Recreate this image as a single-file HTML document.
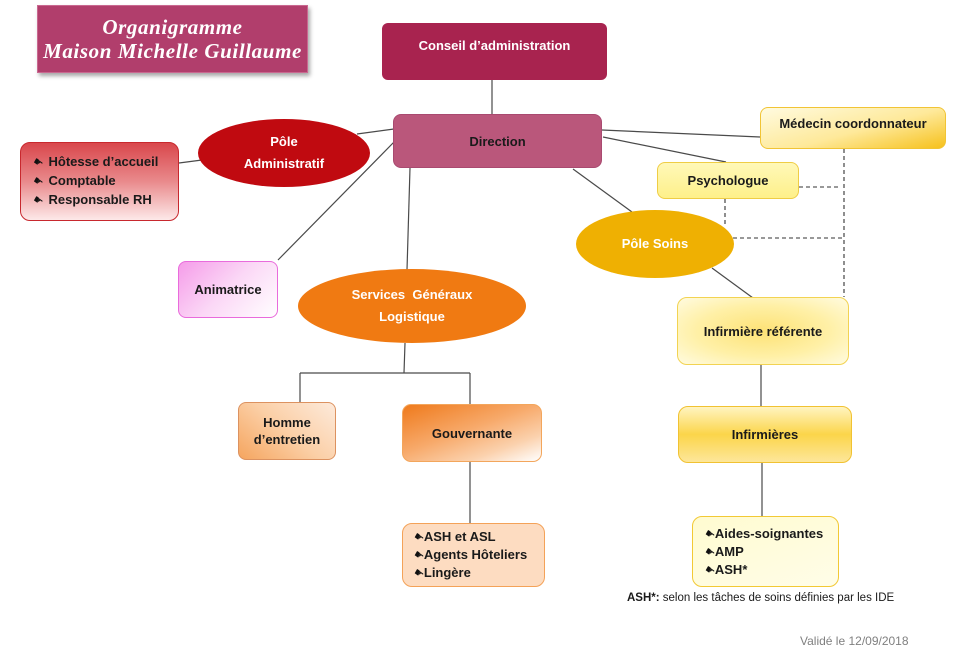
<!DOCTYPE html>
<html><head><meta charset="utf-8"><style>
body{margin:0;background:#fff;}
#c{position:relative;width:965px;height:652px;overflow:hidden;background:#fff;font-family:"Liberation Sans",sans-serif;}
.b{position:absolute;box-sizing:border-box;display:flex;align-items:center;justify-content:center;text-align:center;font-weight:bold;font-size:13px;color:#1a1a1a;line-height:17px;}
.e{position:absolute;border-radius:50%;display:flex;align-items:center;justify-content:center;text-align:center;font-weight:bold;font-size:13px;color:#fff;line-height:22px;}
.l{justify-content:flex-start;text-align:left;}
.bu{font-family:"DejaVu Sans",sans-serif;font-size:11px;font-weight:normal;margin-right:2px;display:inline-block;transform:rotate(35deg);color:#111;}
svg{position:absolute;left:0;top:0;}
</style></head><body><div id="c">
<svg width="965" height="652">
<g stroke="#4a4a4a" stroke-width="1.2" fill="none">
<line x1="492" y1="80" x2="492" y2="114"/>
<line x1="179" y1="163" x2="202" y2="160"/>
<line x1="357" y1="134" x2="394" y2="129"/>
<line x1="278" y1="260" x2="395" y2="141"/>
<line x1="410" y1="168" x2="407" y2="270"/>
<line x1="405" y1="343" x2="404" y2="373"/>
<line x1="300" y1="373" x2="470" y2="373"/>
<line x1="300" y1="373" x2="300" y2="403"/>
<line x1="470" y1="373" x2="470" y2="404"/>
<line x1="470" y1="462" x2="470" y2="523"/>
<line x1="602" y1="130" x2="760" y2="137"/>
<line x1="603" y1="137" x2="726" y2="162"/>
<line x1="573" y1="169" x2="632" y2="212"/>
<line x1="712" y1="268" x2="753" y2="298"/>
<line x1="761" y1="365" x2="761" y2="407"/>
<line x1="762" y1="463" x2="762" y2="516"/>
</g>
<g stroke="#333" stroke-width="1.1" fill="none" stroke-dasharray="4,3">
<line x1="844" y1="149" x2="844" y2="297"/>
<line x1="799" y1="187" x2="838" y2="187"/>
<line x1="725" y1="199" x2="725" y2="226"/>
<line x1="733" y1="238" x2="844" y2="238"/>
</g>
</svg>

<div class="b" style="left:37px;top:5px;width:271px;height:68px;background:#b13e6c;box-shadow:2px 3px 4px rgba(0,0,0,0.35);border:1px solid #c96890;color:#fff;font-family:'Liberation Serif',serif;font-style:italic;font-size:21px;line-height:24px;letter-spacing:0.6px;flex-direction:column;">
<div>Organigramme</div><div>Maison Michelle Guillaume</div></div>

<div class="b" style="left:382px;top:23px;width:225px;height:57px;background:#a8234f;border-radius:6px;color:#fff;align-items:flex-start;padding-top:14px;">Conseil d’administration</div>

<div class="b" style="left:393px;top:114px;width:209px;height:54px;background:#ba577b;border-radius:8px;border:1px solid #a94a70;">Direction</div>

<div class="e" style="left:198px;top:119px;width:172px;height:68px;background:#c00a10;flex-direction:column;"><div>Pôle</div><div>Administratif</div></div>

<div class="b l" style="left:20px;top:142px;width:159px;height:79px;border-radius:10px;border:1px solid #c8282e;background:linear-gradient(to bottom,#d9474c 0%,#e98a8c 50%,#fde9e9 100%);padding-left:12px;flex-direction:column;align-items:flex-start;justify-content:center;line-height:18px;">
<div><span class="bu">☛</span> Hôtesse d’accueil</div><div><span class="bu">☛</span> Comptable</div><div><span class="bu">☛</span> Responsable RH</div></div>

<div class="b" style="left:178px;top:261px;width:100px;height:57px;border-radius:8px;border:1px solid #e96bdc;background:linear-gradient(135deg,#f59ce9 0%,#fbd8f6 50%,#fff 100%);">Animatrice</div>

<div class="e" style="left:298px;top:269px;width:228px;height:74px;background:#f07a12;flex-direction:column;"><div>Services&nbsp; Généraux</div><div>Logistique</div></div>

<div class="b" style="left:238px;top:402px;width:98px;height:58px;border-radius:8px;border:1px solid #dc9260;background:linear-gradient(40deg,#f5a55f 0%,#fbcfa6 50%,#fdeadb 100%);flex-direction:column;"><div>Homme</div><div>d’entretien</div></div>

<div class="b" style="left:402px;top:404px;width:140px;height:58px;border-radius:9px;border:1px solid #f3a65c;background:linear-gradient(160deg,#ef7a1c 0%,#f7a96a 45%,#fbd1ad 75%,#fff 100%);">Gouvernante</div>

<div class="b l" style="left:402px;top:523px;width:143px;height:64px;border-radius:10px;border:1px solid #f4a258;background:#fddcc1;padding-left:11px;flex-direction:column;align-items:flex-start;justify-content:center;line-height:17px;">
<div><span class="bu" style="margin-right:0">☛</span>ASH et ASL</div><div><span class="bu" style="margin-right:0">☛</span>Agents Hôteliers</div><div><span class="bu" style="margin-right:0">☛</span>Lingère</div></div>

<div class="b" style="left:760px;top:107px;width:186px;height:42px;border-radius:8px;border:1px solid #f1c435;background:linear-gradient(165deg,#fffbe0 0%,#fee99a 55%,#f6c11c 100%);align-items:flex-start;padding-top:7px;">Médecin coordonnateur</div>

<div class="b" style="left:657px;top:162px;width:142px;height:37px;border-radius:8px;border:1px solid #efcd45;background:linear-gradient(to bottom,#fff8b8 0%,#fef08a 100%);">Psychologue</div>

<div class="e" style="left:576px;top:210px;width:158px;height:68px;background:#efb002;">Pôle Soins</div>

<div class="b" style="left:677px;top:297px;width:172px;height:68px;border-radius:10px;border:1px solid #f2d352;background:radial-gradient(ellipse at center,#fde276 0%,#fff0a6 55%,#fffbe0 100%);">Infirmière référente</div>

<div class="b" style="left:678px;top:406px;width:174px;height:57px;border-radius:10px;border:1px solid #f1c232;background:linear-gradient(to bottom,#fff4c0 0%,#fbd54a 50%,#fde69a 100%);">Infirmières</div>

<div class="b l" style="left:692px;top:516px;width:147px;height:71px;border-radius:10px;border:1px solid #f2c935;background:linear-gradient(160deg,#fffbd0 0%,#fffde8 100%);padding-left:12px;flex-direction:column;align-items:flex-start;justify-content:center;line-height:17px;">
<div><span class="bu" style="margin-right:0">☛</span>Aides-soignantes</div><div><span class="bu" style="margin-right:0">☛</span>AMP</div><div><span class="bu" style="margin-right:0">☛</span>ASH*</div></div>

<div style="position:absolute;left:627px;top:592px;font-size:11.5px;color:#1a1a1a;white-space:nowrap;"><b>ASH*:</b> selon les tâches de soins définies par les IDE</div>
<div style="position:absolute;left:800px;top:634px;font-size:12px;color:#808080;white-space:nowrap;">Validé le 12/09/2018</div>
</div></body></html>
